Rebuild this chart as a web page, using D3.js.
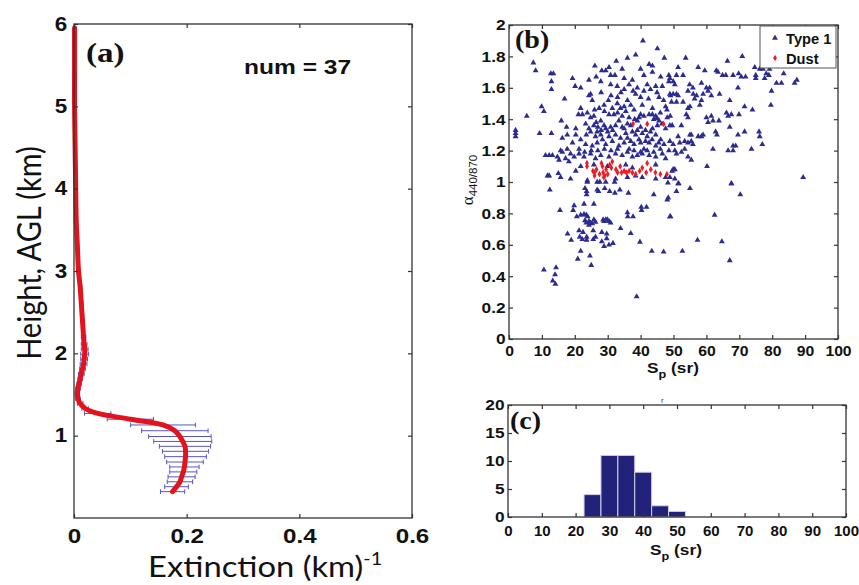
<!DOCTYPE html>
<html>
<head>
<meta charset="utf-8">
<title>extinction profile, Sp scatter and histogram</title>
<style>
  body { margin: 0; background: #fff; }
  svg { display: block; }
</style>
</head>
<body>
<svg id="chart"></svg>
<script src="https://d3js.org/d3.v7.min.js"></script>
<script>
// ---- data ----
// (a) mean extinction profile (km^-1) and its spread at each height (km)
const profHeight = [0.32, 0.38, 0.44, 0.50, 0.56, 0.62, 0.68, 0.745, 0.81, 0.87, 0.93, 0.99, 1.06, 1.13, 1.20, 1.27, 1.33, 1.39, 1.45, 1.51,
  1.57, 1.63, 1.69, 1.75, 1.81, 1.87, 1.93, 1.99, 2.05, 2.11, 2.2, 2.4, 2.6, 2.8, 3.0, 3.3, 3.6, 4.0, 4.5, 5.0, 5.5, 5.95];
const profMean = [0.175, 0.182, 0.188, 0.191, 0.194, 0.196, 0.197, 0.198, 0.198, 0.197, 0.193, 0.188, 0.179, 0.158, 0.100, 0.042, 0.020, 0.011, 0.007, 0.006,
  0.007, 0.009, 0.011, 0.013, 0.015, 0.017, 0.018, 0.019, 0.019, 0.018, 0.017, 0.015, 0.013, 0.011, 0.008, 0.006, 0.004, 0.003, 0.002, 0.001, 0.001, 0.001];
const profErr = [0.0215, 0.021, 0.0225, 0.024, 0.024, 0.026, 0.0325, 0.037, 0.041, 0.0455, 0.0515, 0.0555, 0.059, 0.0575, 0.041, 0.0235, 0.006, 0.005, 0.004, 0.004,
  0.004, 0.004, 0.004, 0.005, 0.005, 0.006, 0.006, 0.007, 0.006, 0.005, 0.004, 0.003, 0.003, 0.003, 0.002, 0.001, 0.001, 0.001, 0.001, 0.001, 0.001, 0.001];
const profCount = "num = 37";

// (b) lidar ratio Sp (sr) vs Angstrom exponent 440/870
const type1Points = [
  [40.7,1.90],[45.1,1.85],[38.5,1.81],[36.0,1.79],[47.2,1.79],[53.7,1.79],[66.4,1.77],[70.9,1.80],
  [7.4,1.76],[8.1,1.71],[12.7,1.69],[13.5,1.69],[12.9,1.64],[12.9,1.59],
  [26.1,1.74],[32.6,1.77],[42.6,1.75],[43.6,1.74],[28.2,1.71],[29.4,1.71],[30.4,1.73],[34.4,1.72],[40.0,1.72],[43.6,1.70],[48.6,1.68],
  [19.3,1.66],[24.3,1.65],[26.5,1.67],[30.9,1.68],[32.2,1.68],[35.0,1.66],[41.0,1.68],[46.1,1.67],[27.9,1.64],[37.5,1.65],[48.6,1.64],
  [20.1,1.61],[21.8,1.60],[30.9,1.62],[32.9,1.61],[36.5,1.62],[42.0,1.62],[44.6,1.61],[46.6,1.61],[35.0,1.59],[37.7,1.58],[43.0,1.59],
  [38.5,1.56],[41.0,1.58],[24.8,1.56],[24.3,1.55],[40.0,1.54],[30.2,1.52],[25.3,1.52],[16.9,1.53],[36.0,1.52],[42.4,1.53],[45.6,1.54],[49.1,1.55],
  [28.9,1.49],[32.9,1.50],[37.0,1.49],[9.9,1.48],[27.4,1.47],[31.4,1.47],[33.9,1.47],[35.0,1.48],[21.8,1.47],[40.5,1.49],[43.6,1.47],[47.6,1.48],[10.6,1.45],[49.4,1.51],
  [22.3,1.43],[23.8,1.44],[25.8,1.42],[21.1,1.43],[5.4,1.42],[27.9,1.39],[30.4,1.43],[31.9,1.43],[34.4,1.42],[40.0,1.43],[41.0,1.42],[42.6,1.43],[43.6,1.43],[44.6,1.42],
  [15.9,1.39],[24.8,1.41],[26.5,1.38],[33.4,1.39],[36.5,1.41],[39.0,1.39],[45.6,1.39],[48.1,1.41],
  [28.9,1.36],[23.3,1.37],[25.8,1.36],[17.5,1.35],[2.0,1.33],[29.4,1.34],[30.9,1.35],[32.4,1.36],[34.4,1.35],[36.0,1.37],[40.0,1.35],[43.6,1.34],[45.1,1.36],[47.6,1.34],
  [49.6,1.36],[20.3,1.34],[24.3,1.34],[26.8,1.32],
  [2.0,1.31],[2.0,1.29],[9.3,1.31],[12.9,1.31],[17.7,1.30],[20.3,1.30],[21.8,1.27],[23.5,1.30],[24.8,1.32],[26.3,1.29],[27.9,1.30],[30.4,1.29],[32.4,1.30],[33.9,1.28],
  [35.5,1.31],[37.5,1.32],[38.5,1.30],[40.5,1.31],[42.0,1.29],[44.6,1.30],[46.1,1.27],[16.2,1.28],[28.4,1.27],
  [19.3,1.25],[23.3,1.24],[25.3,1.23],[26.8,1.25],[29.4,1.24],[31.4,1.26],[33.4,1.23],[35.0,1.25],[36.5,1.21],[38.0,1.24],[40.0,1.25],[41.0,1.21],[42.6,1.25],[44.6,1.23],
  [47.1,1.24],[48.6,1.20],[15.7,1.20],[17.7,1.21],[21.3,1.21],
  [11.1,1.17],[12.2,1.17],[13.2,1.17],[14.7,1.16],[16.2,1.19],[17.2,1.15],[18.7,1.18],[19.8,1.16],[21.3,1.18],[22.8,1.16],[24.8,1.18],[26.3,1.15],[27.9,1.17],[30.4,1.16],
  [32.4,1.18],[34.4,1.17],[36.0,1.19],[37.5,1.16],[39.0,1.17],[40.5,1.18],[42.6,1.17],[44.6,1.16],[46.6,1.18],[47.6,1.15],[18.2,1.13],[15.2,1.14],
  [12.2,1.04],[15.7,1.03],[18.7,1.02],[20.3,1.07],[23.8,1.01],[26.8,1.00],[29.4,1.00],[32.4,1.02],[36.0,1.03],[38.5,1.04],[40.5,1.03],[44.6,1.02],[47.6,1.03],[49.6,1.07],
  [21.8,1.10],[25.8,1.11],[29.9,1.10],[35.5,1.11],[37.5,1.09],[44.6,1.11],[11.7,1.04],[15.0,1.055],
  [38.2,1.40],[39.5,1.41],[44.0,1.40],[45.0,1.405],[37.0,1.36],[46.5,1.37],[39.0,1.33],[41.5,1.33],[43.0,1.32],[36.0,1.28],[37.0,1.26],[39.5,1.27],[41.5,1.26],[43.5,1.27],
  [45.5,1.25],[38.0,1.20],[40.0,1.19],[42.0,1.20],[44.0,1.19],[46.0,1.21],[31.0,1.20],[33.0,1.21],[29.0,1.21],[27.0,1.20],[25.0,1.20],[23.0,1.19],[30.0,1.32],[31.5,1.33],
  [28.0,1.33],[27.0,1.35],[35.0,1.34],[33.0,1.44],[29.0,1.45],[26.0,1.46],[35.5,1.45],[38.0,1.46],[31.0,1.55],[33.0,1.54],[28.0,1.57],[34.0,1.57],[39.0,1.60],[45.0,1.57],
  [47.0,1.52],[48.0,1.46],[49.0,1.42],[46.0,1.44],
  [51.4,1.73],[50.9,1.68],[57.5,1.73],[59.5,1.71],[52.9,1.68],[63.0,1.71],[63.5,1.70],[64.9,1.68],[65.9,1.68],[68.1,1.68],[69.8,1.69],[70.6,1.67],[71.9,1.67],[74.7,1.73],
  [75.0,1.68],[75.0,1.66],[76.2,1.72],[77.2,1.72],[79.2,1.72],[78.2,1.69],[79.0,1.68],[77.7,1.66],[81.3,1.63],[82.8,1.63],[83.5,1.69],[86.8,1.63],[87.5,1.65],[79.8,1.58],[79.6,1.49],
  [48.9,1.66],[49.9,1.64],[50.4,1.62],[54.9,1.62],[55.9,1.60],[54.4,1.58],[58.5,1.63],[60.0,1.60],[60.5,1.58],[61.0,1.60],[59.0,1.56],[61.5,1.55],[56.0,1.56],[57.0,1.55],
  [56.4,1.53],[48.9,1.56],[49.9,1.56],[50.9,1.56],[51.4,1.55],[50.9,1.51],[52.9,1.51],[55.0,1.48],[54.4,1.47],[58.0,1.49],[58.5,1.52],[64.0,1.56],[69.6,1.60],[67.1,1.52],
  [71.6,1.48],[74.0,1.46],
  [53.9,1.43],[54.4,1.41],[60.0,1.41],[60.5,1.38],[61.5,1.42],[62.0,1.39],[63.8,1.39],[66.1,1.44],[66.6,1.42],[67.6,1.43],[69.9,1.43],[52.4,1.36],[48.9,1.36],[62.8,1.32],
  [63.2,1.30],[67.1,1.35],[69.6,1.30],[71.6,1.32],[76.0,1.32],[76.2,1.29],[77.0,1.24],
  [55.0,1.30],[55.4,1.30],[57.5,1.29],[58.5,1.29],[59.0,1.30],[51.4,1.29],[51.9,1.25],[53.4,1.26],[54.4,1.25],[55.4,1.26],[55.9,1.24],[48.9,1.26],[49.9,1.24],[50.4,1.20],
  [50.9,1.18],[52.4,1.19],[53.4,1.21],[62.0,1.21],[66.6,1.20],[68.1,1.20],[68.1,1.23],[68.9,1.23],[73.7,1.21],[54.4,1.16],[55.4,1.14],[60.2,1.10],[49.9,1.08],[50.4,1.08],
  [48.9,1.03],[50.4,1.02],[51.4,0.99],[67.6,0.99],[89.4,1.03],
  [12.4,0.95],[15.5,0.82],[19.8,0.85],[19.5,0.82],[22.8,0.86],[25.8,0.86],[23.1,0.96],[23.6,0.94],[23.6,0.92],[23.8,1.00],[27.6,1.00],[32.1,1.00],[26.8,0.95],[27.2,0.94],
  [29.1,0.96],[30.6,0.94],[32.2,0.93],[33.7,0.95],[36.3,0.93],[44.0,0.92],[48.3,0.995],[48.1,0.886],[48.4,0.90],[40.2,0.84],[40.3,0.82],[41.8,0.84],[36.0,0.805],[36.1,0.78],
  [37.7,0.78],[48.9,0.78],[20.6,0.78],
  [21.8,0.79],[22.8,0.795],[23.5,0.79],[23.9,0.78],[24.3,0.75],[23.5,0.74],[24.3,0.725],[24.8,0.74],[25.3,0.735],[25.8,0.76],[26.3,0.745],[23.1,0.755],[28.6,0.76],[29.4,0.76],
  [29.9,0.76],[30.4,0.75],[30.9,0.74],[28.9,0.75],
  [33.9,0.705],[37.0,0.673],[17.8,0.67],[18.9,0.63],[21.3,0.69],[21.5,0.65],[22.5,0.68],[22.3,0.635],[23.6,0.65],[23.6,0.63],[25.6,0.69],[25.6,0.635],[26.3,0.65],[28.2,0.68],
  [28.2,0.62],[29.7,0.67],[29.7,0.64],[30.4,0.60],[28.9,0.59],[31.6,0.61],[39.8,0.618],[43.4,0.56],[47.0,0.555],[21.8,0.56],[20.9,0.51],[24.6,0.53],[25.0,0.47],
  [10.6,0.44],[14.3,0.455],[14.0,0.41],[13.3,0.37],[14.1,0.35],[38.8,0.27],
  [51.6,0.99],[50.9,0.94],[55.0,0.96],[67.6,0.99],[70.3,0.92],[49.1,0.78],[62.5,0.79],[57.3,0.63],[64.7,0.62],[52.7,0.56],[67.1,0.50]
];
const dustPoints = [
  [37.7,1.37],[42.0,1.37],[47.0,1.37],
  [23.7,1.12],[23.7,1.10],[26.0,1.04],[26.6,1.08],[26.0,1.06],[28.1,1.12],[28.4,1.10],[28.6,1.06],[29.1,1.04],[28.8,1.03],[27.5,1.05],
  [30.6,1.11],[31.4,1.13],[31.1,1.09],[32.5,1.08],[33.0,1.06],[34.2,1.06],[35.0,1.07],[35.7,1.06],[36.5,1.07],[37.5,1.06],[38.5,1.05],
  [39.7,1.07],[40.5,1.09],[41.7,1.06],[42.0,1.12],[43.1,1.08],[44.5,1.06],[46.0,1.05],[48.0,1.05],[33.8,1.10],[30.0,1.05],[25.5,1.07],[29.5,1.08]
];
const legendNames = ["Type 1", "Dust"];

// (c) histogram of dust Sp
const histBinStart = [22.5, 27.5, 32.5, 37.5, 42.5, 47.5];
const histCounts = [4, 11, 11, 8, 2, 1];
const histBinWidth = 5;

// tick values
const ticksAx = [0, 0.2, 0.4, 0.6];
const ticksAy = [1, 2, 3, 4, 5, 6];
const ticksBx = [0, 10, 20, 30, 40, 50, 60, 70, 80, 90, 100];
const ticksBy = [0, 0.2, 0.4, 0.6, 0.8, 1, 1.2, 1.4, 1.6, 1.8, 2];
const ticksCy = [0, 5, 10, 15, 20];

// ---- drawing ----
const W = 859, H = 585;
const svg = d3.select("#chart").attr("width", W).attr("height", H);

const sans = "'Liberation Sans', Arial, sans-serif";
const serif = "'Liberation Serif', 'Times New Roman', serif";
const calib = "Lato, 'Open Sans', sans-serif";
const frameCol = "#333";
const stretch = 1.15;   // the source figure is a bit wider than tall

function label(x, y, txt, font, size, bold, sx) {
  return svg.append("text")
    .attr("transform", `translate(${x},${y}) scale(${sx || stretch},1)`)
    .attr("font-family", font).attr("font-size", size)
    .attr("font-weight", bold ? "bold" : "normal").attr("fill", "#111")
    .text(txt);
}

// frame + inner ticks on four sides
function drawFrame(x, y, xt, yt, xfmt, yfmt, fsX, fsY, padX, padY, sxX) {
  const g = svg.append("g");
  g.append("rect")
    .attr("x", x.range()[0]).attr("y", y.range()[1])
    .attr("width", x.range()[1] - x.range()[0])
    .attr("height", y.range()[0] - y.range()[1])
    .attr("fill", "none").attr("stroke", frameCol).attr("stroke-width", 1.3);

  const axes = [
    [d3.axisBottom(x).tickValues(xt).tickFormat(xfmt).tickPadding(padX), `translate(0,${y.range()[0]})`, fsX, sxX || stretch],
    [d3.axisTop(x).tickValues(xt).tickFormat(""), `translate(0,${y.range()[1]})`, fsX, 1],
    [d3.axisLeft(y).tickValues(yt).tickFormat(yfmt).tickPadding(padY), `translate(${x.range()[0]},0)`, fsY, stretch],
    [d3.axisRight(y).tickValues(yt).tickFormat(""), `translate(${x.range()[1]},0)`, fsY, 1]
  ];
  axes.forEach(([ax, tr, fs, sx]) => {
    const a = g.append("g").attr("transform", tr)
      .call(ax.tickSizeInner(-4).tickSizeOuter(0));
    a.select(".domain").remove();
    a.selectAll("line").attr("stroke", frameCol).attr("stroke-width", 1.2);
    a.selectAll("text")
      .attr("font-family", sans).attr("font-weight", "bold")
      .attr("font-size", fs).attr("fill", "#111")
      .attr("transform", `scale(${sx},1)`);
  });
  return g;
}

// ===== panel (a) =====
const xA = d3.scaleLinear().domain([0, 0.6]).range([74, 412]);
const yA = d3.scaleLinear().domain([0, 6]).range([518, 24]);

const profile = profHeight.map((h, i) => ({ h: h, m: profMean[i], e: profErr[i] }));

// error bars
const eb = svg.append("g").attr("stroke", "#5656c2").attr("stroke-width", 1).attr("fill", "none");
profile.forEach(d => {
  const yy = yA(d.h);
  const x0 = xA(Math.max(0, d.m - d.e)), x1 = xA(d.m + d.e);
  eb.append("line").attr("x1", x0).attr("x2", x1).attr("y1", yy).attr("y2", yy);
  eb.append("line").attr("x1", x0).attr("x2", x0).attr("y1", yy - 2.3).attr("y2", yy + 2.3);
  eb.append("line").attr("x1", x1).attr("x2", x1).attr("y1", yy - 2.3).attr("y2", yy + 2.3);
});

// mean line
svg.append("path")
  .datum(profile)
  .attr("fill", "none")
  .attr("stroke", "#e3121b")
  .attr("stroke-width", 5)
  .attr("stroke-linecap", "round")
  .attr("d", d3.line().x(d => xA(d.m)).y(d => yA(d.h)).curve(d3.curveCatmullRom));

drawFrame(xA, yA, ticksAx, ticksAy, d => d === 0 ? "0" : d3.format(".1f")(d), d3.format("d"), 21, 19.5, 10, 6);

label(86, 62, "(a)", serif, 28, true, 1.18);
label(244, 74, profCount, sans, 21, true, 1.17);

svg.append("text")
  .attr("transform", "translate(41,253) rotate(-90) scale(1,1.1)")
  .attr("text-anchor", "middle")
  .attr("font-family", calib).attr("font-size", 29).attr("fill", "#111")
  .text("Height, AGL (km)");

const xTitleA = label(148, 577, "", calib, 28, false, 1.17);
xTitleA.append("tspan").text("Extinction (km)");
xTitleA.append("tspan").attr("font-size", 17).attr("dy", -12).text("-1");

// ===== panel (b) =====
const xB = d3.scaleLinear().domain([0, 100]).range([509, 838]);
const yB = d3.scaleLinear().domain([0, 2]).range([339, 25]);

const tri = d3.symbol().type(d3.symbolTriangle).size(15);
const dia = d3.symbol().type(d3.symbolDiamond).size(13);

svg.append("g").selectAll("path")
  .data(type1Points).join("path")
  .attr("transform", d => `translate(${xB(d[0])},${yB(d[1])})`)
  .attr("d", tri)
  .attr("fill", "#2b2b90");

svg.append("g").selectAll("path")
  .data(dustPoints).join("path")
  .attr("transform", d => `translate(${xB(d[0])},${yB(d[1])})`)
  .attr("d", dia)
  .attr("fill", "#ee1c24");

drawFrame(xB, yB, ticksBx, ticksBy, d3.format("d"), d => d3.format("~g")(d), 15, 15, 6, 3, 1.05);

label(515, 48, "(b)", serif, 25, true, 1.12);

// legend
const leg = svg.append("g");
leg.append("rect").attr("x", 760).attr("y", 26).attr("width", 76).attr("height", 42)
  .attr("fill", "#fff").attr("stroke", "#555").attr("stroke-width", 1);
leg.append("path").attr("transform", "translate(775,38)").attr("d", tri).attr("fill", "#2b2b90");
leg.append("path").attr("transform", "translate(775,58)").attr("d", dia).attr("fill", "#ee1c24");
legendNames.forEach((n, i) => label(786, 44 + i * 20, n, sans, 14, true, 1.05));

// axis titles (b)
function spTitle(cx, y) {
  const t = label(cx, y, "", sans, 15, true).attr("text-anchor", "middle");
  t.append("tspan").text("S");
  t.append("tspan").attr("font-size", 11).attr("dy", 5).text("p");
  t.append("tspan").attr("dy", -5).text(" (sr)");
  return t;
}
spTitle(673, 373);

const yTitleB = svg.append("text").attr("transform", "translate(473,180) rotate(-90)")
  .attr("text-anchor", "middle").attr("fill", "#111");
yTitleB.append("tspan").attr("font-family", serif).attr("font-size", 17).text("α");
yTitleB.append("tspan").attr("font-family", sans).attr("font-size", 11.5).attr("dy", 4).text("440/870");

// ===== panel (c) =====
const xC = d3.scaleLinear().domain([0, 100]).range([508, 846]);
const yC = d3.scaleLinear().domain([0, 20]).range([517, 405]);

svg.append("g").selectAll("rect")
  .data(histCounts).join("rect")
  .attr("x", (d, i) => xC(histBinStart[i]))
  .attr("width", xC(histBinWidth) - xC(0))
  .attr("y", d => yC(d))
  .attr("height", d => yC(0) - yC(d))
  .attr("fill", "#22227a")
  .attr("stroke", "#d0d0e6").attr("stroke-width", 1);

drawFrame(xC, yC, ticksBx, ticksCy, d3.format("d"), d3.format("d"), 15, 15, 8, 3, 1.0);

label(510, 429, "(c)", serif, 25, true, 1.12);
spTitle(676, 555);

// stray mark above panel (c)
svg.append("text").attr("x", 661).attr("y", 403)
  .attr("font-family", sans).attr("font-size", 8).attr("fill", "#444").text("r");
</script>
</body>
</html>
